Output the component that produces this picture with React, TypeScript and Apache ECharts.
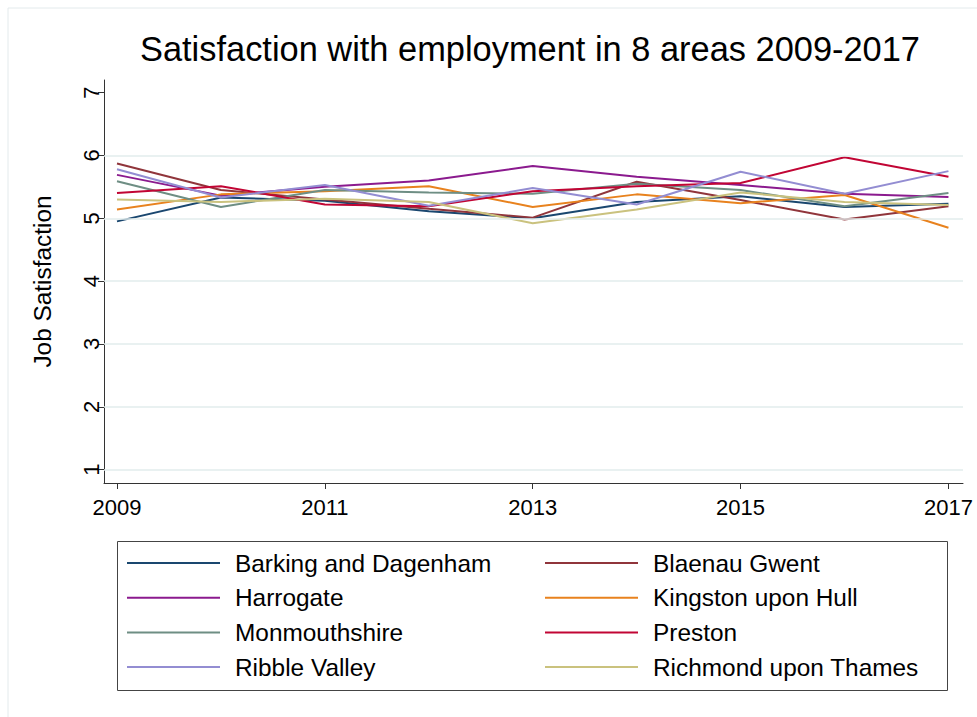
import React, { useEffect, useRef } from "react";
import * as echarts from "echarts";

const years = [2009, 2010, 2011, 2012, 2013, 2014, 2015, 2016, 2017];
const xTickValues = [2009, 2011, 2013, 2015, 2017];
const yTickValues = [1, 2, 3, 4, 5, 6, 7];
const gridValues = [1, 2, 3, 4, 5, 6];

const seriesNames = [
  "Barking and Dagenham",
  "Blaenau Gwent",
  "Harrogate",
  "Kingston upon Hull",
  "Monmouthshire",
  "Preston",
  "Ribble Valley",
  "Richmond upon Thames",
];

const barking = [4.95, 5.33, 5.28, 5.11, 5.0, 5.26, 5.35, 5.18, 5.23];
const blaenau = [5.87, 5.45, 5.3, 5.15, 5.01, 5.58, 5.29, 4.98, 5.19];
const harrogate = [5.69, 5.36, 5.5, 5.6, 5.83, 5.66, 5.53, 5.39, 5.34];
const kingston = [5.14, 5.38, 5.43, 5.51, 5.18, 5.38, 5.24, 5.37, 4.85];
const monmouthshire = [5.59, 5.18, 5.45, 5.41, 5.39, 5.55, 5.45, 5.19, 5.4];
const preston = [5.4, 5.51, 5.22, 5.19, 5.43, 5.51, 5.56, 5.97, 5.66];
const ribble = [5.78, 5.33, 5.53, 5.2, 5.48, 5.22, 5.74, 5.39, 5.75];
const richmond = [5.3, 5.26, 5.31, 5.26, 4.92, 5.14, 5.41, 5.26, 5.21];

const seriesValues = [barking, blaenau, harrogate, kingston, monmouthshire, preston, ribble, richmond];
const seriesColors = ["#1a476f", "#90353b", "#8b1a8e", "#e8821e", "#6e8e84", "#c10534", "#938dd2", "#cac27e"];

const FONT = "Liberation Sans";

export default function App() {
  const ref = useRef<HTMLDivElement>(null);
  useEffect(() => {
    if (!ref.current) return;
    const chart = echarts.init(ref.current, null, { renderer: "svg" });
    const lineSeries = seriesNames.map((name, i) => ({
      name,
      type: "line",
      data: years.map((y, j) => [y, seriesValues[i][j]]),
      showSymbol: false,
      symbol: "none",
      lineStyle: { color: seriesColors[i], width: 2 },
      itemStyle: { color: seriesColors[i] },
      z: 3,
    }));
    const gridSeries = {
      name: "__grid",
      type: "line",
      data: [],
      z: 1,
      silent: true,
      markLine: {
        silent: true,
        symbol: "none",
        label: { show: false },
        lineStyle: { color: "#e2eded", width: 1.5, type: "solid" },
        data: gridValues.map((v) => ({ yAxis: v })),
      },
    };
    const col1 = seriesNames.filter((_, i) => i % 2 === 0);
    const col2 = seriesNames.filter((_, i) => i % 2 === 1);
    const legendBase = {
      orient: "vertical",
      top: 551,
      padding: 0,
      itemGap: 10.7,
      itemWidth: 93,
      itemHeight: 2,
      icon: "rect",
      textStyle: { fontFamily: FONT, fontSize: 24.4, color: "#000", lineHeight: 24, padding: [0, 0, 0, 10] },
    };
    chart.setOption({
      animation: false,
      backgroundColor: "#fff",
      title: {
        text: "Satisfaction with employment in 8 areas 2009-2017",
        left: 140,
        top: 32,
        padding: 0,
        textStyle: { fontFamily: FONT, fontSize: 34.4, fontWeight: "normal", color: "#000" },
      },
      grid: { left: 104, right: 14, top: 80, bottom: 234, containLabel: false },
      xAxis: {
        type: "value",
        min: 2008.875,
        max: 2017.14,
        axisLine: { show: true, lineStyle: { color: "#333", width: 1 } },
        axisTick: { show: true, customValues: xTickValues, length: 6, lineStyle: { color: "#333" } },
        axisLabel: {
          customValues: xTickValues,
          formatter: (v: number) => String(v),
          fontFamily: FONT,
          fontSize: 22,
          color: "#000",
          margin: 13,
        },
        splitLine: { show: false },
      },
      yAxis: {
        type: "value",
        min: 0.787,
        max: 7.2,
        name: "Job Satisfaction",
        nameLocation: "middle",
        nameRotate: 90,
        nameGap: 50,
        nameTextStyle: { fontFamily: FONT, fontSize: 24.4, color: "#000" },
        axisLine: { show: true, lineStyle: { color: "#333", width: 1 } },
        axisTick: { show: true, customValues: yTickValues, length: 6, lineStyle: { color: "#333" } },
        axisLabel: {
          customValues: yTickValues,
          rotate: 90,
          fontFamily: FONT,
          fontSize: 22,
          color: "#000",
          margin: 2,
        },
        splitLine: { show: false },
      },
      legend: [
        { ...legendBase, left: 127, data: col1 },
        { ...legendBase, left: 545, data: col2 },
      ],
      graphic: [
        {
          type: "rect",
          shape: { x: 8, y: 8, width: 990, height: 740 },
          style: { fill: "none", stroke: "#e3eaec", lineWidth: 1 },
          silent: true,
        },
        {
          type: "rect",
          shape: { x: 117.5, y: 541.5, width: 830, height: 149 },
          style: { fill: "none", stroke: "#444", lineWidth: 1 },
          silent: true,
        },
      ],
      series: [gridSeries, ...lineSeries],
    });
    return () => chart.dispose();
  }, []);
  return <div ref={ref} style={{ position: "absolute", left: 0, top: 0, width: 977, height: 717 }} />;
}
